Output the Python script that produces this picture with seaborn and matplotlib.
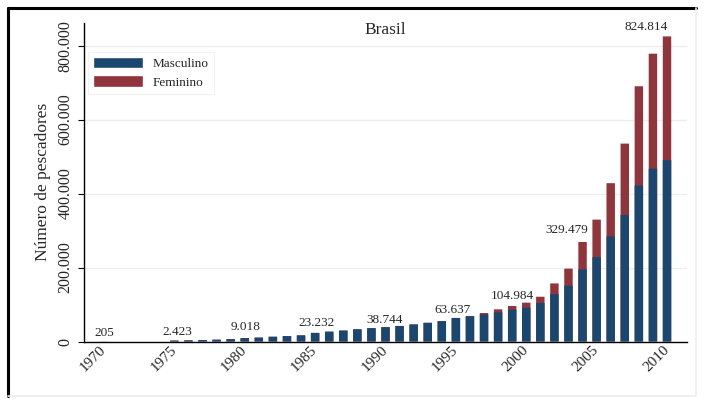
import pandas as pd
import matplotlib
matplotlib.use("Agg")
from matplotlib import pyplot as plt
from matplotlib.patches import Patch
from matplotlib.lines import Line2D
from matplotlib.ticker import FuncFormatter
import seaborn as sns

# pescadores registrados por ano
anos = [1970, 1975, 1976, 1977, 1978, 1979, 1980, 1981, 1982, 1983, 1984,
        1985, 1986, 1987, 1988, 1989, 1990, 1991, 1992, 1993, 1994, 1995,
        1996, 1997, 1998, 1999, 2000, 2001, 2002, 2003, 2004, 2005, 2006,
        2007, 2008, 2009, 2010]
masculino = [205, 2423, 3000, 3800, 4800, 6200, 9018, 10500, 12800, 14500, 16500,
             23232, 26500, 29500, 33000, 36000, 38744, 42000, 46000, 50500, 55000, 63637,
             68000, 73000, 79000, 86000, 91484, 104000, 128000, 151000, 195000, 228000, 284000,
             342000, 422000, 467000, 490000]
feminino = [0, 0, 0, 0, 0, 0, 0, 0, 0, 0, 0,
            0, 0, 0, 0, 0, 0, 0, 0, 0, 0, 0,
            1000, 4000, 8000, 10000, 13500, 17000, 29000, 46000, 74000, 101479, 144000,
            193000, 268000, 311000, 334814]

rotulo_anos = [1970, 1975, 1980, 1985, 1990, 1995, 2000, 2005, 2010]
rotulo_valores = [205, 2423, 9018, 23232, 38744, 63637, 104984, 329479, 824814]
# deslocamento dos rotulos em pixels (x, y)
rotulo_desloc = [(0, 8), (3, 9), (1, 11), (1, 10), (-1, 7), (-3, 8), (-14, 7), (-30, -10), (-21, 9)]

df = pd.DataFrame({"ano": anos, "masculino": masculino, "feminino": feminino})
df["total"] = df["masculino"] + df["feminino"]

sns.set_style("white")
plt.rcParams["font.family"] = ["Liberation Serif", "DejaVu Serif"]

navy = "#1a476f"
maroon = "#90353b"

fig = plt.figure(figsize=(7.05, 4.03), dpi=100)
ax = fig.add_axes([84 / 705, 1 - 341.5 / 403, (687 - 84) / 705, (341.5 - 23) / 403])

sns.barplot(data=df, x="ano", y="total", native_scale=True, width=0.6, snap=False,
            color=maroon, saturation=1, linewidth=0, edgecolor="none", ax=ax, zorder=2)
sns.barplot(data=df, x="ano", y="masculino", native_scale=True, width=0.6, snap=False,
            color=navy, saturation=1, linewidth=0, edgecolor="none", ax=ax, zorder=3)

ax.set_xlim(1968.58, 2011.42)
ax.set_ylim(0, 861000)
ax.set_xticks(range(1970, 2011, 5))
ax.set_yticks(range(0, 800001, 200000))
ax.yaxis.set_major_formatter(FuncFormatter(lambda v, p: f"{v:,.0f}".replace(",", ".")))
ax.grid(axis="y", color="#ededed", lw=0.9, zorder=0)
ax.grid(axis="x", visible=False)
for s in ["top", "right"]:
    ax.spines[s].set_visible(False)
for s in ["left", "bottom"]:
    ax.spines[s].set_color("black")
    ax.spines[s].set_linewidth(1.0)
ax.tick_params(axis="y", length=4, width=0.8, color="black", labelsize=11.5, left=True)
ax.tick_params(axis="x", length=0, pad=4.5, labelsize=11, bottom=True)
for lab in ax.get_yticklabels():
    lab.set_rotation(90)
    lab.set_va("center")
for lab in ax.get_xticklabels():
    lab.set_rotation(45)
    lab.set_ha("right")
    lab.set_rotation_mode("anchor")
    lab.set_va("center")

ax.set_xlabel("")
ax.set_ylabel("Número de pescadores", fontsize=12.5, labelpad=5)

for a, v, (dx, dy) in zip(rotulo_anos, rotulo_valores, rotulo_desloc):
    ax.annotate(f"{v:,}".replace(",", "."), xy=(a, v), xytext=(dx, dy),
                textcoords="offset pixels", ha="center", va="center", fontsize=9.5)

fig.text(385.5 / 705, 1 - 30 / 403, "Brasil", ha="center", va="center", fontsize=12.5)

handles = [Patch(facecolor=navy, label="Masculino"), Patch(facecolor=maroon, label="Feminino")]
leg = ax.legend(handles=handles, loc="upper left", bbox_to_anchor=(0.006, 0.91),
                fontsize=9.5, frameon=True, fancybox=False, handlelength=3.8,
                handleheight=0.95, handletextpad=0.7, labelspacing=0.4,
                borderpad=0.4, borderaxespad=0)
leg.get_frame().set_edgecolor("#eeeeee")
leg.get_frame().set_linewidth(0.8)

# moldura da figura
fig.add_artist(Line2D([8 / 705, 8 / 705], [1 - 396 / 403, 1 - 8 / 403], color="black", lw=2.2))
fig.add_artist(Line2D([8 / 705, 696 / 705], [1 - 8 / 403, 1 - 8 / 403], color="black", lw=2.2))
fig.add_artist(Line2D([696 / 705, 696 / 705], [1 - 396 / 403, 1 - 8 / 403], color="#eeeeee", lw=1.2))
fig.add_artist(Line2D([8 / 705, 696 / 705], [1 - 396 / 403, 1 - 396 / 403], color="#eeeeee", lw=1.2))

fig.savefig("out.png", dpi=100)
